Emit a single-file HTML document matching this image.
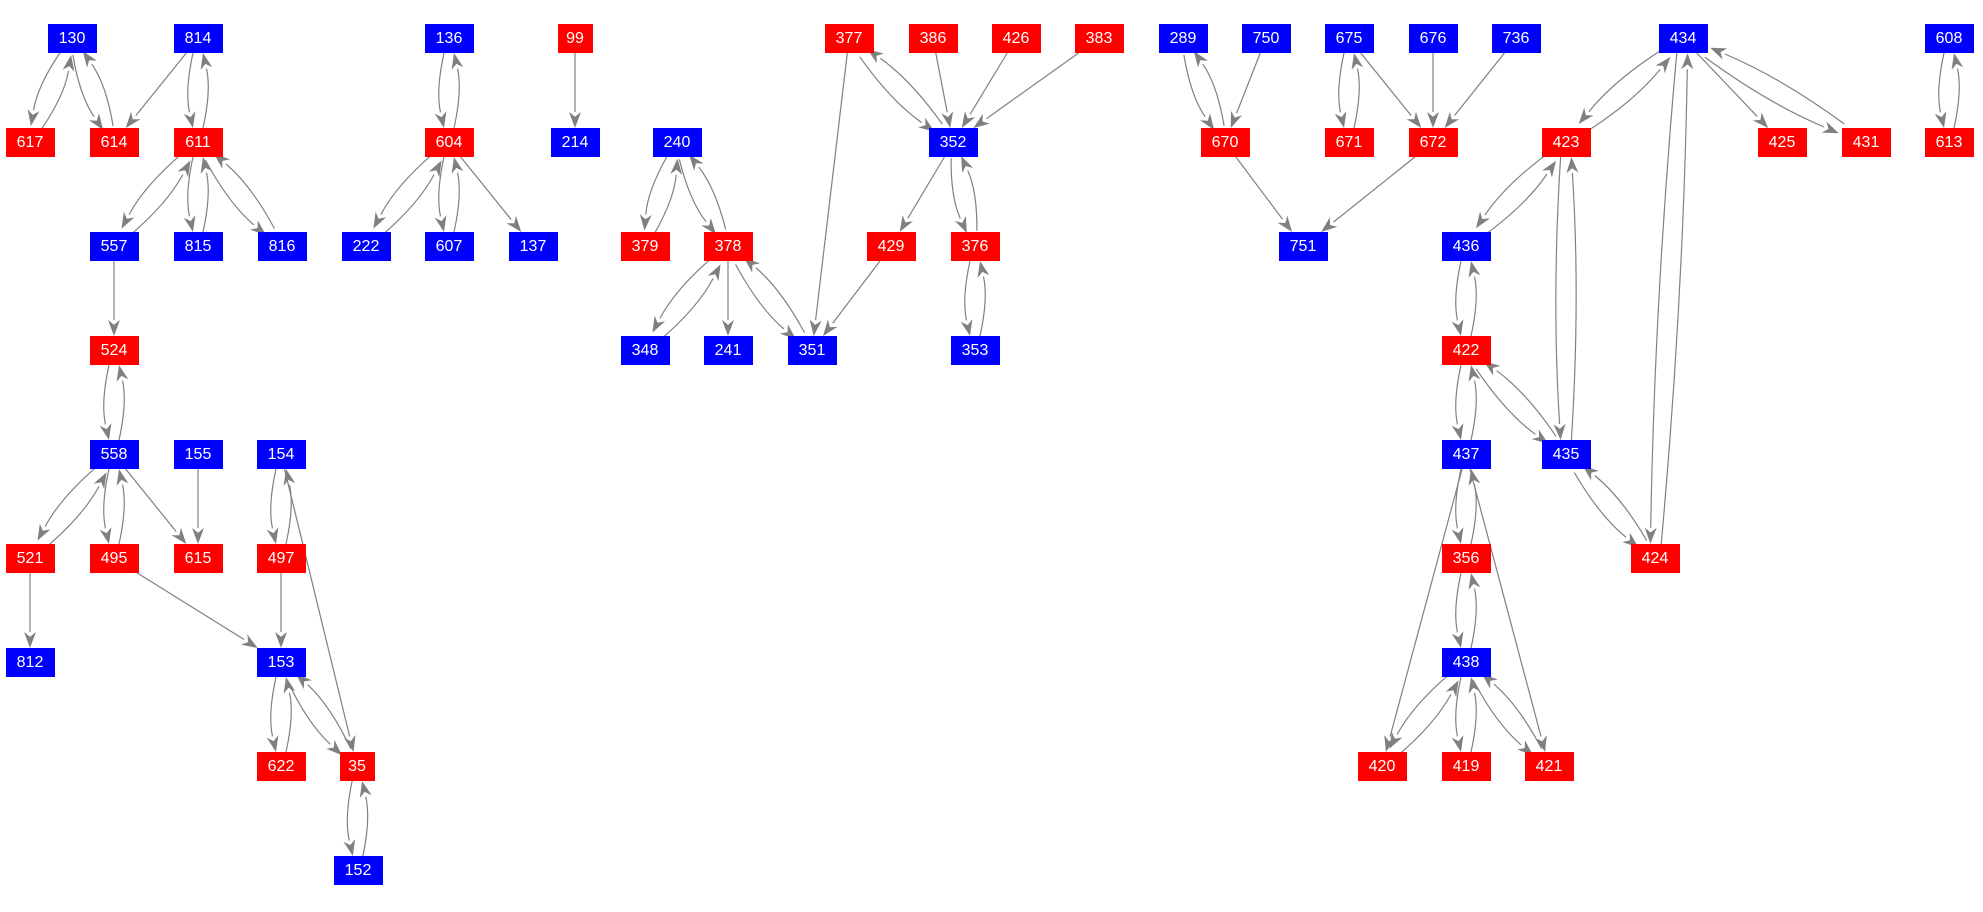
<!DOCTYPE html>
<html><head><meta charset="utf-8"><style>
html,body{margin:0;padding:0;background:#fff;}
#c{position:relative;width:1983px;height:912px;overflow:hidden;}
.n{position:absolute;height:29px;line-height:29px;text-align:center;color:#fff;font-family:"Liberation Sans",sans-serif;font-size:16px;z-index:2;}
.b{background:#0000ff;}.r{background:#ff0000;}
svg{position:absolute;left:0;top:0;z-index:1;}
</style></head><body><div id="c">
<svg id="s" width="1983" height="912"></svg>
<div id="nodes"></div>
</div>
<script>
var N={
"130":[72,0,"b"],"814":[198,0,"b"],"136":[449,0,"b"],"99":[575,0,"r"],"377":[849,0,"r"],"386":[933,0,"r"],"426":[1016,0,"r"],"383":[1099,0,"r"],"289":[1183,0,"b"],"750":[1266,0,"b"],"675":[1349,0,"b"],"676":[1433,0,"b"],"736":[1516,0,"b"],"434":[1683,0,"b"],"608":[1949,0,"b"],
"617":[30,1,"r"],"614":[114,1,"r"],"611":[198,1,"r"],"604":[449,1,"r"],"214":[575,1,"b"],"240":[677,1,"b"],"352":[953,1,"b"],"670":[1225,1,"r"],"671":[1349,1,"r"],"672":[1433,1,"r"],"423":[1566,1,"r"],"425":[1782,1,"r"],"431":[1866,1,"r"],"613":[1949,1,"r"],
"557":[114,2,"b"],"815":[198,2,"b"],"816":[282,2,"b"],"222":[366,2,"b"],"607":[449,2,"b"],"137":[533,2,"b"],"379":[645,2,"r"],"378":[728,2,"r"],"429":[891,2,"r"],"376":[975,2,"r"],"751":[1303,2,"b"],"436":[1466,2,"b"],
"524":[114,3,"r"],"348":[645,3,"b"],"241":[728,3,"b"],"351":[812,3,"b"],"353":[975,3,"b"],"422":[1466,3,"r"],
"558":[114,4,"b"],"155":[198,4,"b"],"154":[281,4,"b"],"437":[1466,4,"b"],"435":[1566,4,"b"],
"521":[30,5,"r"],"495":[114,5,"r"],"615":[198,5,"r"],"497":[281,5,"r"],"356":[1466,5,"r"],"424":[1655,5,"r"],
"812":[30,6,"b"],"153":[281,6,"b"],"438":[1466,6,"b"],
"622":[281,7,"r"],"35":[357,7,"r"],"420":[1382,7,"r"],"419":[1466,7,"r"],"421":[1549,7,"r"],
"152":[358,8,"b"]};
var E="130-617 617-130 130-614 614-130 814-614 814-611 611-814 611-557 557-611 611-815 815-611 611-816 816-611 557-524 524-558 558-524 558-521 521-558 558-495 495-558 558-615 155-615 154-497 497-154 154-35 495-153 497-153 521-812 153-622 622-153 153-35 35-153 35-152 152-35 136-604 604-136 604-222 222-604 604-607 607-604 604-137 99-214 240-379 379-240 240-378 378-240 378-348 348-378 378-241 378-351 351-378 377-351 377-352 352-377 386-352 426-352 383-352 352-429 429-351 352-376 376-352 376-353 353-376 289-670 670-289 750-670 675-671 671-675 675-672 676-672 736-672 670-751 672-751 434-423 423-434 434-425 434-431 431-434 434-424 424-434 423-436 436-423 423-435 435-423 436-422 422-436 422-437 437-422 422-435 435-422 435-424 424-435 437-356 356-437 356-438 438-356 437-420 437-421 438-420 420-438 438-419 419-438 438-421 421-438 608-613 613-608".split(" ");
var H=29,nd=document.getElementById("nodes");
function W(k){return k.length<3?35:49;}
for(var k in N){var d=document.createElement("div");d.className="n "+N[k][2];var w=W(k);
d.style.left=(N[k][0]-w/2)+"px";d.style.top=(24+104*N[k][1])+"px";d.style.width=w+"px";d.textContent=k;nd.appendChild(d);}
var set={};E.forEach(function(e){set[e]=1;});
var s=document.getElementById("s"),out="";
function C(k){return [N[k][0],24+104*N[k][1]+H/2];}
function clip(c,dx,dy,w){var hw=w/2,hh=H/2;var t=Infinity;
if(dx!=0)t=Math.min(t,hw/Math.abs(dx));if(dy!=0)t=Math.min(t,hh/Math.abs(dy));return [c[0]+dx*t,c[1]+dy*t];}
E.forEach(function(e){var p=e.split("-"),a=p[0],b=p[1];var A=C(a),B=C(b);
var bi=set[b+"-"+a];var dx=B[0]-A[0],dy=B[1]-A[1],L=Math.hypot(dx,dy);var ux=dx/L,uy=dy/L;
var off=bi?Math.min(9,L*0.08):0;var px=-uy,py=ux;
var P=clip(A,dx,dy,W(a)),Q=clip(B,-dx,-dy,W(b));
P=[P[0]+px*off*0.6,P[1]+py*off*0.6];Q=[Q[0]+px*off*0.6,Q[1]+py*off*0.6];
var M=[(P[0]+Q[0])/2+px*off,(P[1]+Q[1])/2+py*off];
var tx=Q[0]-M[0],ty=Q[1]-M[1],tl=Math.hypot(tx,ty);tx/=tl;ty/=tl;
var al=16,aw=6;var base=[Q[0]-tx*al,Q[1]-ty*al];
out+='<path d="M'+P[0].toFixed(1)+' '+P[1].toFixed(1)+' Q'+M[0].toFixed(1)+' '+M[1].toFixed(1)+' '+base[0].toFixed(1)+' '+base[1].toFixed(1)+'" fill="none" stroke="#808080" stroke-width="1.2"/>';
var l=[base[0]-ty*aw,base[1]+tx*aw],r=[base[0]+ty*aw,base[1]-tx*aw],m=[Q[0]-tx*al*0.7,Q[1]-ty*al*0.7];
out+='<polygon points="'+Q[0].toFixed(1)+','+Q[1].toFixed(1)+' '+l[0].toFixed(1)+','+l[1].toFixed(1)+' '+m[0].toFixed(1)+','+m[1].toFixed(1)+' '+r[0].toFixed(1)+','+r[1].toFixed(1)+'" fill="#808080"/>';
});
s.innerHTML=out;
</script>
</body></html>
